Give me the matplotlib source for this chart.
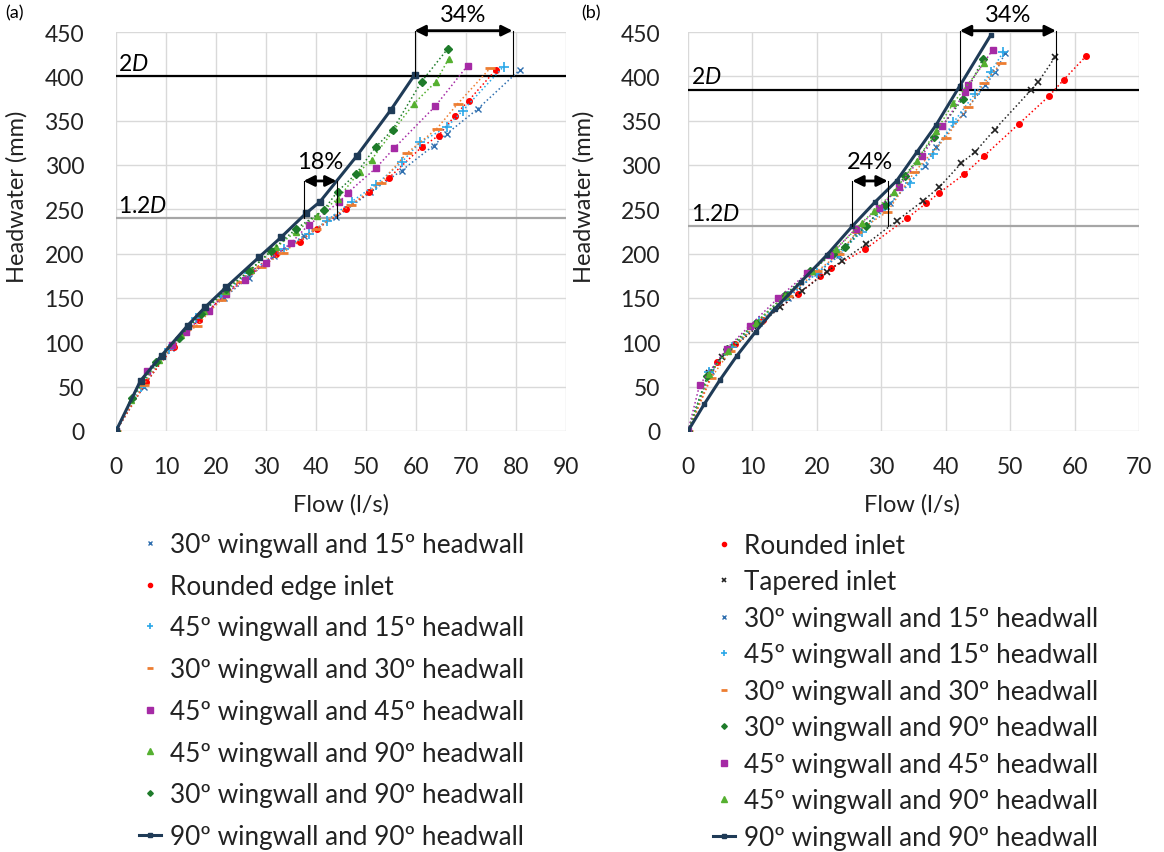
import matplotlib
matplotlib.use("Agg")
import matplotlib.pyplot as plt
from matplotlib.lines import Line2D

plt.rcParams['font.family'] = ['Lato', 'DejaVu Sans']
plt.rcParams['mathtext.fontset'] = 'custom'
plt.rcParams['mathtext.rm'] = 'Lato'
plt.rcParams['mathtext.it'] = 'Lato:italic'

# ---- panel (a) data: flow (l/s), headwater (mm) ----
a_90_90_q = [0, 4.9, 9.1, 14.3, 17.8, 22.0, 28.6, 33.0, 38.0, 40.8, 48.1, 55.0, 59.7]
a_90_90_h = [0, 56.7, 85, 118.8, 139.5, 162, 196, 218.4, 245.5, 258.6, 309.8, 362.4, 401.5]
a_30_15_q = [0, 5.5, 11.0, 16.5, 21.5, 26.5, 31.5, 37.5, 44.0, 50.8, 57.1, 63.5, 66.1, 72.3, 80.8]
a_30_15_h = [0, 50, 94, 126, 150, 173, 197, 220, 241, 269, 293.6, 321.8, 335, 363, 407.5]
a_round_q = [0, 6.0, 11.5, 16.5, 22.0, 27.0, 32.0, 36.7, 40.1, 46.0, 50.5, 54.5, 61.1, 64.5, 67.8, 70.5, 76.0]
a_round_h = [0, 55, 95, 125, 155, 180, 200, 213.5, 227.8, 250.4, 269, 285, 320, 333, 355.6, 372.5, 407.5]
a_45_15_q = [0, 5.0, 10.5, 16.0, 21.0, 26.5, 33.5, 38.5, 42.1, 47.1, 52.0, 57.1, 60.8, 66.1, 69.3, 77.5]
a_45_15_h = [0, 50, 92, 128, 152, 178, 205, 222, 237, 258.6, 278, 303, 325.6, 342.5, 361, 411]
a_30_30_q = [0, 5.5, 11.0, 16.1, 21.0, 25.0, 29.0, 33.3, 40.0, 47.0, 53.0, 58.1, 64.1, 68.3, 74.8]
a_30_30_h = [0, 52, 95, 118.8, 148, 168, 185, 200.7, 228, 255, 280, 313, 340.6, 368.8, 409]
a_45_45_q = [0, 6.1, 11.1, 14.0, 18.5, 22.0, 25.8, 30.0, 35.0, 38.5, 44.6, 46.3, 52.0, 55.6, 63.8, 70.3]
a_45_45_h = [0, 68, 97, 112, 135.7, 155, 170.7, 190, 212, 232.3, 258, 268.4, 296.6, 318.8, 366, 412]
a_45_90_q = [0, 3.0, 8.5, 13.0, 17.5, 22.0, 27.0, 32.0, 36.0, 40.1, 44.3, 48.7, 51.1, 59.5, 64.0, 66.5]
a_45_90_h = [0, 35, 80, 108, 135, 158, 182, 207, 225, 242.8, 261.6, 292.5, 306, 368.8, 394, 419.5]
a_30_90_q = [0, 3.1, 8.0, 12.5, 17.0, 22.0, 26.5, 31.0, 36.0, 41.5, 44.3, 48.0, 51.9, 55.3, 61.1, 66.3]
a_30_90_h = [0, 36.8, 78, 105, 132, 160, 180, 203, 228, 249, 270, 290, 320, 339.5, 394, 430.8]

# ---- panel (b) data ----
b_90_90_q = [0, 2.5, 5.0, 7.6, 10.5, 13.5, 17.5, 21.5, 25.5, 29.0, 32.4, 35.5, 38.5, 42.2, 47.0]
b_90_90_h = [0, 30, 58, 85, 112, 138, 168, 198, 231, 258, 282.3, 314.3, 345, 389.4, 446.6]
b_round_q = [0, 4.5, 7.3, 11.7, 17.1, 20.5, 22.2, 27.5, 34.0, 37.0, 38.9, 42.9, 46.0, 51.3, 56.0, 58.3, 61.8]
b_round_h = [0, 77.5, 98, 125.5, 154.5, 174.4, 183.5, 205, 240, 257, 268, 289.8, 310.5, 346, 377.5, 396, 423]
b_taper_q = [0, 3.2, 5.2, 14.3, 17.7, 21.6, 23.9, 27.7, 32.4, 36.5, 39.0, 42.4, 44.6, 47.6, 53.3, 54.4, 57.0]
b_taper_h = [0, 65, 83, 139.5, 158, 179.7, 192, 211, 237, 259.7, 275, 302, 315, 340, 385, 394, 422]
b_30_15_q = [0, 3.5, 6.5, 11.0, 15.5, 20.0, 23.5, 26.2, 31.4, 36.8, 38.5, 42.7, 46.1, 47.7, 49.2]
b_30_15_h = [0, 68, 92, 122, 150, 178, 198, 224, 257, 299, 320.6, 357.5, 390, 404.5, 426]
b_45_15_q = [0, 3.2, 6.8, 11.0, 15.5, 20.0, 23.5, 27.0, 30.5, 34.5, 38.0, 41.2, 44.5, 47.0, 48.9]
b_45_15_h = [0, 66, 95, 124, 152, 178, 200, 225, 250, 280, 312, 348, 380, 405, 427]
b_30_30_q = [0, 3.6, 6.5, 11.0, 15.5, 20.0, 23.5, 26.2, 30.9, 35.1, 40.0, 43.5, 45.9, 48.6]
b_30_30_h = [0, 60, 90, 122, 152, 180, 200, 224.8, 247, 291.7, 331, 365, 392, 415]
b_30_90_q = [0, 3.0, 6.0, 10.5, 15.0, 19.0, 22.5, 24.4, 27.6, 30.5, 33.7, 38.2, 42.7, 45.8]
b_30_90_h = [0, 62, 92, 122, 153, 180, 200, 207, 231.5, 255, 288, 332, 375, 420]
b_45_45_q = [0, 1.8, 6.0, 9.6, 14.0, 18.5, 22.0, 26.0, 29.7, 32.7, 36.3, 39.5, 43.0, 43.5, 47.3]
b_45_45_h = [0, 52, 93, 118.8, 150, 178, 198, 228, 252, 275, 310.5, 344, 382, 390, 430]
b_45_90_q = [0, 3.3, 6.2, 10.5, 15.0, 19.2, 23.0, 27.0, 28.9, 32.0, 35.5, 38.5, 41.2, 46.0]
b_45_90_h = [0, 64, 90, 122, 152, 180, 205, 235, 248.4, 270, 305, 338, 370, 415]

# reference depths (2D and 1.2D) and percentage annotations
a_D = 200
b_D = 192.5
a_low_q = [37.5, 44.1]
a_high_q = [59.7, 79.3]
b_low_q = [25.5, 31.0]
b_high_q = [42.2, 57.1]

NAVY = '#1F3B57'
styles = {
    '30_15': dict(color='#2F6FAF', marker='x', ms=4.5, mew=1.0),
    'round': dict(color='#FF0000', marker='o', ms=4),
    '45_15': dict(color='#2AA7E8', marker='+', ms=6.5, mew=1.2),
    '30_30': dict(color='#ED7D31', marker='_', ms=6.5, mew=2.0),
    '45_45': dict(color='#A52AA5', marker='s', ms=5),
    '45_90': dict(color='#55B030', marker='^', ms=5),
    '30_90': dict(color='#1E7B2A', marker='D', ms=3.8),
    'taper': dict(color='#222222', marker='x', ms=4.5, mew=1.2),
}

lab = {
    '30_15': '30º wingwall and 15º headwall',
    '45_15': '45º wingwall and 15º headwall',
    '30_30': '30º wingwall and 30º headwall',
    '45_45': '45º wingwall and 45º headwall',
    '45_90': '45º wingwall and 90º headwall',
    '30_90': '30º wingwall and 90º headwall',
    '90_90': '90º wingwall and 90º headwall',
}


def dotted_series(ax, q, h, key):
    st = styles[key]
    ax.plot(q, h, ls=':', lw=1.1, color=st['color'], marker=st['marker'],
            ms=st['ms'], mew=st.get('mew', 1.0), zorder=3)
    return Line2D([], [], ls='none', color=st['color'], marker=st['marker'],
                  ms=st['ms'], mew=st.get('mew', 1.0))


def main_series(ax, q, h, ms):
    ax.plot(q, h, color=NAVY, lw=2.2, marker='s', ms=ms, zorder=5)
    return Line2D([], [], color=NAVY, lw=2.2, marker='s', ms=ms)


def style_axes(ax, xmax, ypad):
    ax.set_xlim(0, xmax)
    ax.set_ylim(0, 450)
    ax.set_xticks(range(0, xmax + 1, 10))
    ax.set_yticks(range(0, 451, 50))
    ax.grid(True, color='#D9D9D9', lw=1.0)
    ax.set_axisbelow(True)
    for s in ax.spines.values():
        s.set_visible(False)
    ax.tick_params(length=0, labelsize=16.5, colors='#222222')
    ax.tick_params(axis='x', pad=18)
    ax.tick_params(axis='y', pad=ypad)
    ax.set_xlabel('Flow (l/s)', fontsize=17, color='#222222')
    ax.set_ylabel('Headwater (mm)', fontsize=17, color='#222222')


def annotate(ax, D, low_q, high_q, low_txt):
    ax.axhline(2 * D, color='black', lw=1.6, zorder=2)
    ax.axhline(1.2 * D, color='#A6A6A6', lw=1.6, zorder=2)
    ax.text(0.4, 2 * D + 3, '2$\\mathit{D}$', fontsize=16.5, va='bottom', ha='left')
    ax.text(0.4, 1.2 * D + 3, '1.2$\\mathit{D}$', fontsize=16.5, va='bottom', ha='left')
    y_low = 282
    y_high = 451.5
    for qv in low_q:
        ax.plot([qv, qv], [1.2 * D, y_low], color='black', lw=0.8, zorder=6)
    for qv in high_q:
        ax.plot([qv, qv], [2 * D, y_high], color='black', lw=0.8, zorder=6, clip_on=False)
    ap = dict(arrowstyle='<|-|>', mutation_scale=16, lw=2.0, color='black', shrinkA=0, shrinkB=0)
    ax.annotate('', xy=(low_q[0], y_low), xytext=(low_q[1], y_low), arrowprops=ap,
                annotation_clip=False, zorder=7)
    ax.annotate('', xy=(high_q[0], y_high), xytext=(high_q[1], y_high), arrowprops=ap,
                annotation_clip=False, zorder=7)
    ax.text(sum(low_q) / 2, y_low + 10, low_txt, fontsize=17, ha='center', va='bottom')
    ax.text(sum(high_q) / 2, y_high + 6, '34%', fontsize=17, ha='center', va='bottom',
            clip_on=False)


fig = plt.figure(figsize=(11.64, 8.53), dpi=100)
axa = fig.add_axes([116 / 1164, 1 - 432 / 853, 450 / 1164, 399 / 853])
axb = fig.add_axes([688 / 1164, 1 - 432 / 853, 451 / 1164, 399 / 853])

# panel (a)
style_axes(axa, 90, 23)
ha = []
ha.append(dotted_series(axa, a_30_15_q, a_30_15_h, '30_15'))
ha.append(dotted_series(axa, a_round_q, a_round_h, 'round'))
ha.append(dotted_series(axa, a_45_15_q, a_45_15_h, '45_15'))
ha.append(dotted_series(axa, a_30_30_q, a_30_30_h, '30_30'))
ha.append(dotted_series(axa, a_45_45_q, a_45_45_h, '45_45'))
ha.append(dotted_series(axa, a_45_90_q, a_45_90_h, '45_90'))
ha.append(dotted_series(axa, a_30_90_q, a_30_90_h, '30_90'))
ha.append(main_series(axa, a_90_90_q, a_90_90_h, 4.5))
annotate(axa, a_D, a_low_q, a_high_q, '18%')
labels_a = [lab['30_15'], 'Rounded edge inlet', lab['45_15'], lab['30_30'],
            lab['45_45'], lab['45_90'], lab['30_90'], lab['90_90']]

# panel (b)
style_axes(axb, 70, 20)
hb = []
hb.append(dotted_series(axb, b_round_q, b_round_h, 'round'))
hb.append(dotted_series(axb, b_taper_q, b_taper_h, 'taper'))
hb.append(dotted_series(axb, b_30_15_q, b_30_15_h, '30_15'))
hb.append(dotted_series(axb, b_45_15_q, b_45_15_h, '45_15'))
hb.append(dotted_series(axb, b_30_30_q, b_30_30_h, '30_30'))
hb.append(dotted_series(axb, b_30_90_q, b_30_90_h, '30_90'))
hb.append(dotted_series(axb, b_45_45_q, b_45_45_h, '45_45'))
hb.append(dotted_series(axb, b_45_90_q, b_45_90_h, '45_90'))
hb.append(main_series(axb, b_90_90_q, b_90_90_h, 3.5))
annotate(axb, b_D, b_low_q, b_high_q, '24%')
labels_b = ['Rounded inlet', 'Tapered inlet', lab['30_15'], lab['45_15'], lab['30_30'],
            lab['30_90'], lab['45_45'], lab['45_90'], lab['90_90']]

axa.yaxis.set_label_coords(-0.196, 0.59)
axb.yaxis.set_label_coords(-0.208, 0.59)
axa.xaxis.set_label_coords(0.50, -0.155)
axb.xaxis.set_label_coords(0.496, -0.155)

fig.legend(ha, labels_a, loc='upper left', bbox_to_anchor=(139 / 1164, 1 - 533 / 853),
           frameon=False, fontsize=18.8, borderpad=0, borderaxespad=0, handlelength=0.85,
           handletextpad=0.35, labelspacing=0.64, labelcolor='#222222', markerscale=0.75)
fig.legend(hb, labels_b, loc='upper left', bbox_to_anchor=(713 / 1164, 1 - 534 / 853),
           frameon=False, fontsize=18.8, borderpad=0, borderaxespad=0, handlelength=0.85,
           handletextpad=0.35, labelspacing=0.44, labelcolor='#222222', markerscale=0.75)

fig.text(15 / 1164, 1 - 13 / 853, '(a)', fontsize=13, ha='center', va='center')
fig.text(591 / 1164, 1 - 13 / 853, '(b)', fontsize=13, ha='center', va='center')

fig.savefig('out.png', dpi=100)
